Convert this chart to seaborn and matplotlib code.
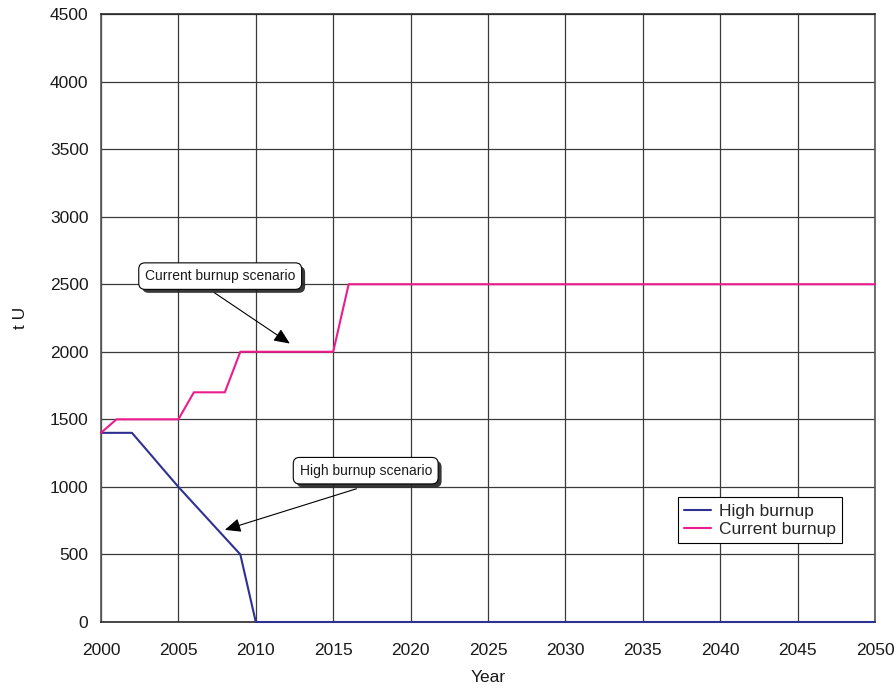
import matplotlib
matplotlib.use("Agg")
import matplotlib.pyplot as plt
import matplotlib.patheffects as pe
import seaborn as sns
import pandas as pd

years = list(range(2000, 2051))

high_burnup = [1400, 1400, 1400, 1267, 1133, 1000, 875, 750, 625, 500] + [0] * 41
current_burnup = ([1400, 1500, 1500, 1500, 1500, 1500, 1700, 1700, 1700]
                  + [2000] * 7 + [2500] * 35)

series_names = ["High burnup", "Current burnup"]
series_colors = ["#2E3192", "#EC1C8C"]

df = pd.DataFrame({"Year": years * 2,
                   "t U": high_burnup + current_burnup,
                   "Series": [series_names[0]] * len(years) + [series_names[1]] * len(years)})

sns.set_theme(style="white")
plt.rcParams["font.family"] = ["Liberation Sans", "DejaVu Sans"]

fig = plt.figure(figsize=(8.95, 6.9), dpi=100)
ax = fig.add_axes([101 / 895, 1 - 622 / 690, 774 / 895, 608 / 690])

sns.lineplot(data=df, x="Year", y="t U", hue="Series", palette=series_colors,
             hue_order=series_names, linewidth=1.5, ax=ax, zorder=3)
for line in ax.lines:
    line.set_clip_on(False)

ax.set_xlim(2000, 2050)
ax.set_ylim(0, 4500)
ax.set_xticks(range(2000, 2051, 5))
ax.set_yticks(range(0, 4501, 500))
ax.grid(True, color="#3a3a3a", linewidth=0.9)
for name, s in ax.spines.items():
    s.set_color("#555555" if name in ("left", "right") else "#2a2a2a")
    s.set_linewidth(1.2)
    s.set_zorder(2)
ax.tick_params(axis="both", labelsize=12.5, colors="#1a1a1a", length=0)
ax.tick_params(axis="x", pad=15)
ax.tick_params(axis="y", pad=9)
ax.set_xlabel("Year", fontsize=12.5, labelpad=9, color="#1a1a1a")
ax.set_ylabel("t U", fontsize=12.5, labelpad=16, color="#1a1a1a")

leg = ax.legend(loc="upper left", bbox_to_anchor=(0.745, 0.205), fontsize=12.5,
                frameon=True, fancybox=False, edgecolor="black", framealpha=1,
                borderpad=0.35, handlelength=1.6, handletextpad=0.45,
                labelspacing=0.2, borderaxespad=0)
leg.get_frame().set_linewidth(0.8)

def callout(text, xy, xytext, textpos):
    ax.annotate("", xy=xy, xytext=xytext,
                arrowprops=dict(arrowstyle="-|>,head_length=0.8,head_width=0.35",
                                color="black", lw=0.8, shrinkA=0, shrinkB=0),
                zorder=5)
    t = ax.text(textpos[0], textpos[1], text, fontsize=10, ha="center", va="center",
                zorder=6, color="#1a1a1a",
                bbox=dict(boxstyle="round,pad=0.45,rounding_size=0.45", fc="white",
                          ec="black", lw=0.8))
    t.get_bbox_patch().set_path_effects([
        pe.SimplePatchShadow(offset=(2.5, -2.5), shadow_rgbFace="#222222", alpha=0.9),
        pe.Normal()])

callout("Current burnup scenario", (2012.2, 2061), (2007.3, 2439), (2007.7, 2560))
callout("High burnup scenario", (2008.0, 682), (2016.5, 986), (2017.1, 1120))

fig.savefig("out.png", dpi=100)
